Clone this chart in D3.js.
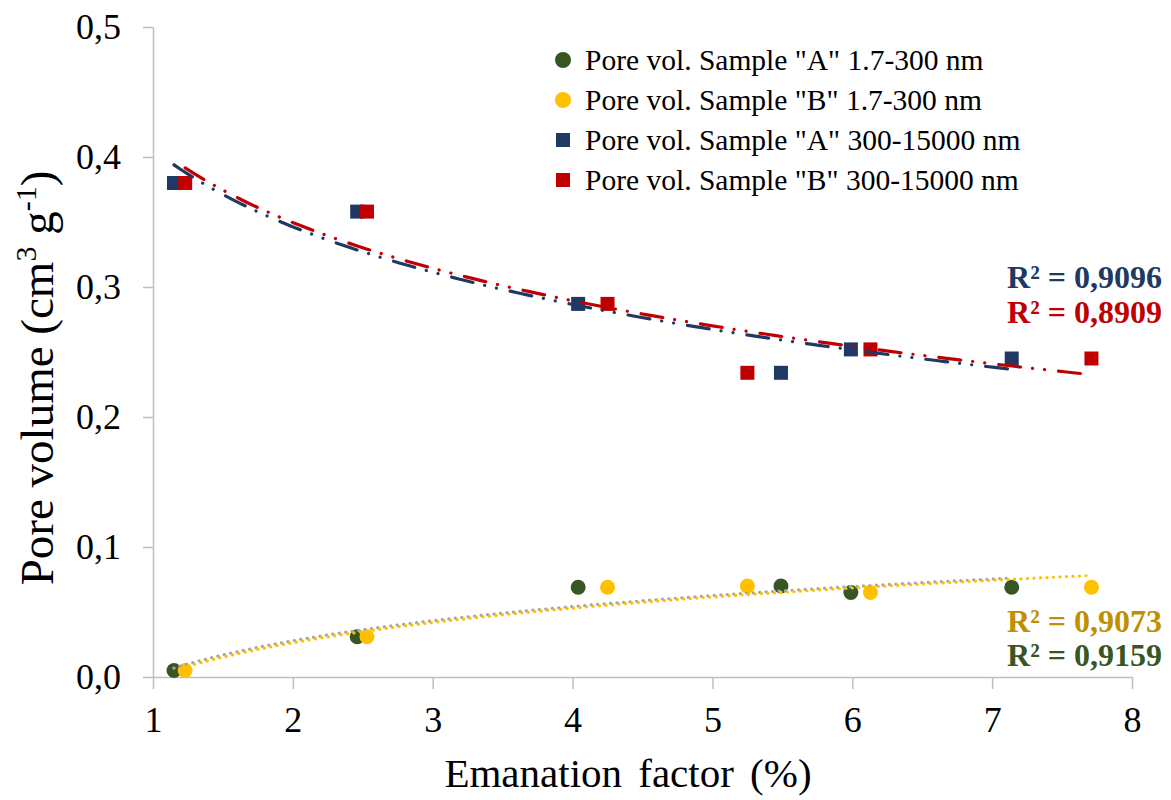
<!DOCTYPE html>
<html>
<head>
<meta charset="utf-8">
<script src="https://cdn.jsdelivr.net/npm/d3@7"></script>
<style>
  body { margin: 0; background: #fff; }
  svg { font-family: "Liberation Serif", "Times New Roman", serif; }
</style>
</head>
<body>
<svg id="chart" width="1171" height="800"></svg>
<script>
// emanation factor (%) for both samples
let efA = [1.15, 2.46, 4.04, 5.49, 5.99, 7.14]
let efB = [1.23, 2.53, 4.25, 5.25, 6.13, 7.71]
// pore volume (cm3 g-1)
let smallA = [0.005, 0.031, 0.069, 0.070, 0.065, 0.069]
let smallB = [0.005, 0.031, 0.069, 0.070, 0.065, 0.069]
let largeA = [0.380, 0.358, 0.287, 0.234, 0.252, 0.245]
let largeB = [0.380, 0.358, 0.287, 0.234, 0.252, 0.245]

let xTicks = [1, 2, 3, 4, 5, 6, 7, 8]
let yTicks = [0, 0.1, 0.2, 0.3, 0.4, 0.5]

let legendLabels = ['Pore vol. Sample "A" 1.7-300 nm',
                    'Pore vol. Sample "B" 1.7-300 nm',
                    'Pore vol. Sample "A" 300-15000 nm',
                    'Pore vol. Sample "B" 300-15000 nm']
let r2Labels = ["R² = 0,9096", "R² = 0,8909", "R² = 0,9073", "R² = 0,9159"]

let green = "#375623", gold = "#FFC000", navy = "#203864", red = "#C00000"

let svg = d3.select("#chart")
let x = d3.scaleLinear().domain([1, 8]).range([153, 1132])
let y = d3.scaleLinear().domain([0, 0.5]).range([677, 27])

let comma = (d) => d3.format(".1f")(d).replace(".", ",")

// axes
let xAxis = svg.append("g").attr("transform", "translate(0,677)")
    .call(d3.axisBottom(x).tickValues(xTicks).tickSize(12).tickSizeOuter(0).tickFormat(d3.format("d")))
xAxis.select(".domain").attr("stroke", "#bfbfbf").attr("stroke-width", 1.5)
xAxis.selectAll(".tick line").attr("stroke", "#bfbfbf").attr("stroke-width", 1.5)
xAxis.selectAll(".tick text").attr("y", 55).attr("dy", 0)
    .attr("font-size", 36).attr("font-family", "Liberation Serif").attr("fill", "#000")

let yAxis = svg.append("g").attr("transform", "translate(153,0)")
    .call(d3.axisLeft(y).tickValues(yTicks).tickSize(10).tickSizeOuter(0).tickPadding(22).tickFormat(comma))
yAxis.select(".domain").attr("stroke", "#bfbfbf").attr("stroke-width", 1.5)
yAxis.selectAll(".tick line").attr("stroke", "#bfbfbf").attr("stroke-width", 1.5)
yAxis.selectAll(".tick text").attr("dy", "0.33em")
    .attr("font-size", 36).attr("font-family", "Liberation Serif").attr("fill", "#000")

// axis titles
svg.append("text")
    .attr("x", 628).attr("y", 787)
    .attr("text-anchor", "middle")
    .attr("font-size", 41)
    .attr("word-spacing", 6)
    .text("Emanation factor (%)")

let yTitle = svg.append("text")
    .attr("transform", "translate(53,378) rotate(-90)")
    .attr("text-anchor", "middle")
    .attr("font-size", 47)
yTitle.append("tspan").text("Pore volume (cm")
yTitle.append("tspan").attr("font-size", 30).attr("dy", -17).text("3")
yTitle.append("tspan").attr("dy", 17).text(" g")
yTitle.append("tspan").attr("font-size", 30).attr("dy", -17).text("-1")
yTitle.append("tspan").attr("dy", 17).text(")")

// logarithmic least-squares fit, like the spreadsheet trendline
let logFit = (xs, ys) => {
    let lx = xs.map(Math.log)
    let mx = d3.mean(lx), my = d3.mean(ys)
    let sxy = d3.sum(lx, (v, i) => (v - mx) * (ys[i] - my))
    let sxx = d3.sum(lx, (v) => (v - mx) * (v - mx))
    let b = sxy / sxx
    let a = my - b * mx
    return (v) => a + b * Math.log(v)
}

let trend = (xs, ys, color, dash, offset) => {
    let f = logFit(xs, ys)
    let lo = d3.min(xs), hi = d3.max(xs)
    let pts = d3.range(0, 101).map((i) => lo + (hi - lo) * i / 100)
    svg.append("path")
        .datum(pts)
        .attr("d", d3.line().x((d) => x(d)).y((d) => y(f(d))))
        .attr("fill", "none")
        .attr("stroke", color)
        .attr("stroke-width", 3.2)
        .attr("stroke-linecap", "round")
        .attr("stroke-dasharray", dash)
        .attr("stroke-dashoffset", offset)
}

// markers
let circles = (xs, ys, color) => {
    svg.append("g").selectAll("circle")
        .data(xs)
        .enter()
        .append("circle")
        .attr("cx", (d) => x(d))
        .attr("cy", (d, i) => y(ys[i]))
        .attr("r", 7.5)
        .attr("fill", color)
}
let squares = (xs, ys, color) => {
    svg.append("g").selectAll("rect")
        .data(xs)
        .enter()
        .append("rect")
        .attr("x", (d) => x(d) - 7)
        .attr("y", (d, i) => y(ys[i]) - 7)
        .attr("width", 14)
        .attr("height", 14)
        .attr("fill", color)
}

circles(efA, smallA, green)
circles(efB, smallB, gold)
squares(efA, largeA, navy)
squares(efB, largeB, red)

trend(efA, largeA, navy, "22 12 0.1 12 0.1 14", 0)
trend(efB, largeB, red, "22 12 0.1 12 0.1 14", 0)
trend(efA, smallA, "#a6a6a6", "0.1 6.4", 0)
trend(efB, smallB, gold, "0.1 6.4", 3.2)

// legend
let legend = svg.append("g")
let legendY = [60, 100, 140, 180]
let legendColors = [green, gold, navy, red]
legendLabels.forEach((label, i) => {
    if (i < 2) {
        legend.append("circle").attr("cx", 563).attr("cy", legendY[i]).attr("r", 8).attr("fill", legendColors[i])
    } else {
        legend.append("rect").attr("x", 556).attr("y", legendY[i] - 7).attr("width", 14).attr("height", 14).attr("fill", legendColors[i])
    }
    legend.append("text")
        .attr("x", 585).attr("y", legendY[i])
        .attr("dy", "0.34em")
        .attr("font-size", 29.5)
        .attr("font-family", "Liberation Serif")
        .text(label)
})

// R² labels
let r2Y = [288, 323, 632, 666]
let r2Colors = [navy, red, "#BF9000", green]
r2Labels.forEach((label, i) => {
    svg.append("text")
        .attr("x", 1162).attr("y", r2Y[i])
        .attr("text-anchor", "end")
        .attr("font-size", 32)
        .attr("font-weight", "bold")
        .attr("fill", r2Colors[i])
        .text(label)
})
</script>
</body>
</html>
